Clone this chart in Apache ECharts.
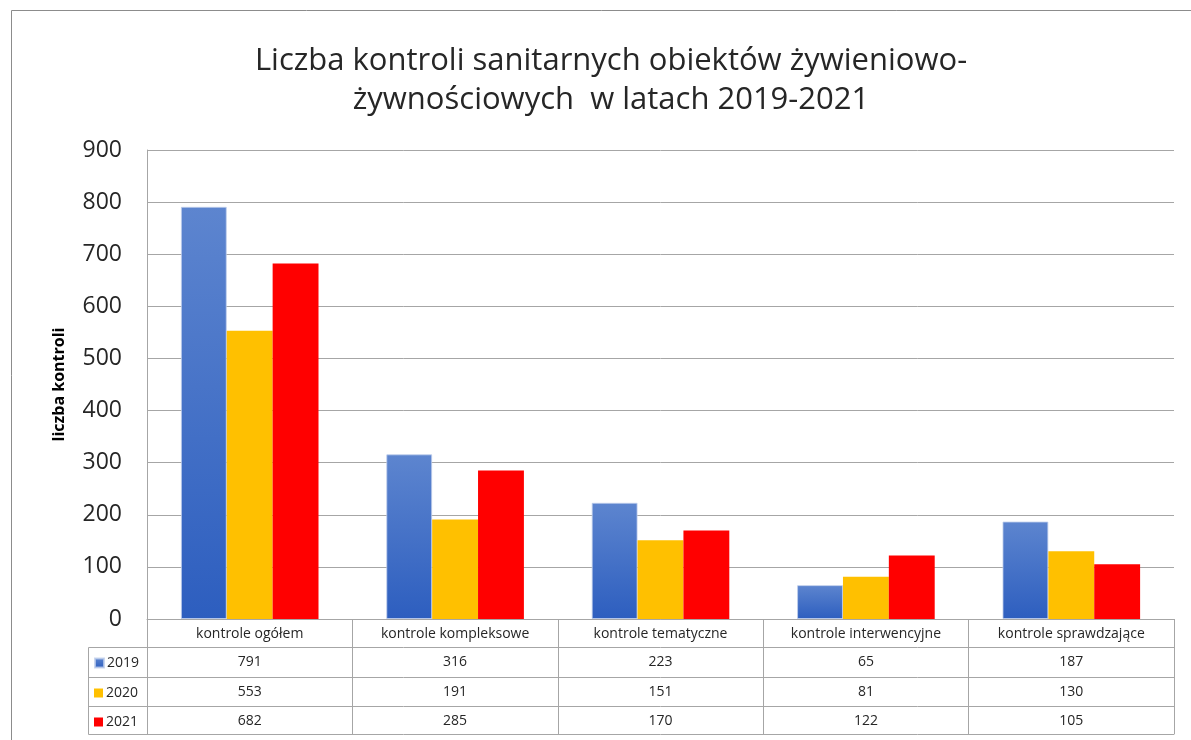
<!DOCTYPE html>
<html>
<head>
<meta charset="utf-8">
<script src="https://cdn.jsdelivr.net/npm/echarts@6/dist/echarts.min.js"></script>
<style>
	html, body { margin: 0; padding: 0; background: #fff; }
	#chart { width: 1191px; height: 740px; }
</style>
</head>
<body>
<div id="chart"></div>
<script>
var categories = ['kontrole ogółem', 'kontrole kompleksowe', 'kontrole tematyczne', 'kontrole interwencyjne', 'kontrole sprawdzające'];
var years = ['2019', '2020', '2021'];
var v2019 = [791, 316, 223, 65, 187];
var v2020 = [553, 191, 151, 81, 130];
var v2021 = [682, 285, 170, 122, 105];
var yearColors = ['#3a68c4', '#ffc000', '#ff0000'];

var font = 'Open Sans';
var lineGray = '#a6a6a6';

var myChart = echarts.init(document.getElementById('chart'));

/*---table rows under the plot, one axis each---*/
var rowOffsets = [28, 58, 87, 115];
var rowData = [v2019, v2020, v2021, null];
var tableAxes = rowOffsets.map(function(off, i) {
	return {
		type: 'category',
		data: categories,
		position: 'bottom',
		offset: off,
		axisLine: { onZero: false, lineStyle: { color: lineGray } },
		axisTick: { show: false },
		axisLabel: {
			show: rowData[i] !== null,
			interval: 0,
			margin: 8,
			fontFamily: font,
			fontSize: 14,
			color: '#262626',
			formatter: function(value, idx) {
				return rowData[i] ? String(rowData[i][idx]) : '';
			}
		}
	};
});

var legendTops = [651, 681, 710];
var legends = years.map(function(y, i) {
	return {
		data: [y],
		left: 89,
		top: legendTops[i],
		itemWidth: 9,
		itemHeight: 9,
		itemGap: 4,
		icon: 'rect',
		selectedMode: false,
		textStyle: { fontFamily: font, fontSize: 14, color: '#262626', padding: [0, 0, 0, -2] }
	};
});

var option = {
	animation: false,
	title: {
		text: 'Liczba kontroli sanitarnych obiektów żywieniowo-\nżywnościowych  w latach 2019-2021',
		left: 606,
		textAlign: 'center',
		top: 37,
		textStyle: {
			fontFamily: font,
			fontSize: 31,
			fontWeight: 'normal',
			color: '#262626',
			lineHeight: 39
		}
	},
	legend: legends,
	grid: {
		left: 147,
		right: 17,
		top: 150,
		bottom: 121
	},
	xAxis: [{
		type: 'category',
		data: categories,
		position: 'bottom',
		axisLine: { onZero: false, lineStyle: { color: lineGray } },
		axisTick: { show: true, interval: 0, length: 115, lineStyle: { color: lineGray } },
		axisLabel: {
			interval: 0,
			margin: 8,
			fontFamily: font,
			fontSize: 14,
			color: '#262626'
		}
	}].concat(tableAxes),
	yAxis: {
		type: 'value',
		min: 0,
		max: 900,
		interval: 100,
		name: 'liczba kontroli',
		nameLocation: 'middle',
		nameGap: 80,
		nameTextStyle: { fontFamily: font, fontSize: 16, fontWeight: 'bold', color: '#000' },
		axisLine: { show: true, lineStyle: { color: lineGray } },
		axisTick: { show: false },
		axisLabel: { margin: 25, fontFamily: font, fontSize: 23, color: '#262626' },
		splitLine: { lineStyle: { color: lineGray } }
	},
	series: [{
		name: '2019',
		type: 'bar',
		barCategoryGap: '33%',
		barGap: '0%',
		data: v2019,
		itemStyle: {
			color: new echarts.graphic.LinearGradient(0, 0, 0, 1, [
				{ offset: 0, color: '#5d85cf' },
				{ offset: 1, color: '#2d5ebf' }
			]),
			borderColor: 'rgba(190,205,235,0.8)',
			borderWidth: 1
		}
	}, {
		name: '2020',
		type: 'bar',
		barGap: '0%',
		data: v2020,
		itemStyle: { color: yearColors[1] }
	}, {
		name: '2021',
		type: 'bar',
		barGap: '0%',
		data: v2021,
		itemStyle: { color: yearColors[2] }
	}],
	color: yearColors,
	graphic: [{
		/* outer chart frame */
		type: 'rect',
		silent: true,
		shape: { x: 11.5, y: 10.5, width: 1300, height: 900 },
		style: { fill: 'none', stroke: '#8c8c8c', lineWidth: 1 }
	}, {
		/* row label column of the data table */
		type: 'polyline',
		silent: true,
		shape: { points: [[147, 647.5], [88.5, 647.5], [88.5, 734.5], [147, 734.5]] },
		style: { fill: 'none', stroke: lineGray, lineWidth: 1 }
	}, {
		type: 'line',
		silent: true,
		shape: { x1: 88.5, y1: 677.5, x2: 147, y2: 677.5 },
		style: { stroke: lineGray, lineWidth: 1 }
	}, {
		type: 'line',
		silent: true,
		shape: { x1: 88.5, y1: 706.5, x2: 147, y2: 706.5 },
		style: { stroke: lineGray, lineWidth: 1 }
	}]
};
myChart.setOption(option);
</script>
</body>
</html>
